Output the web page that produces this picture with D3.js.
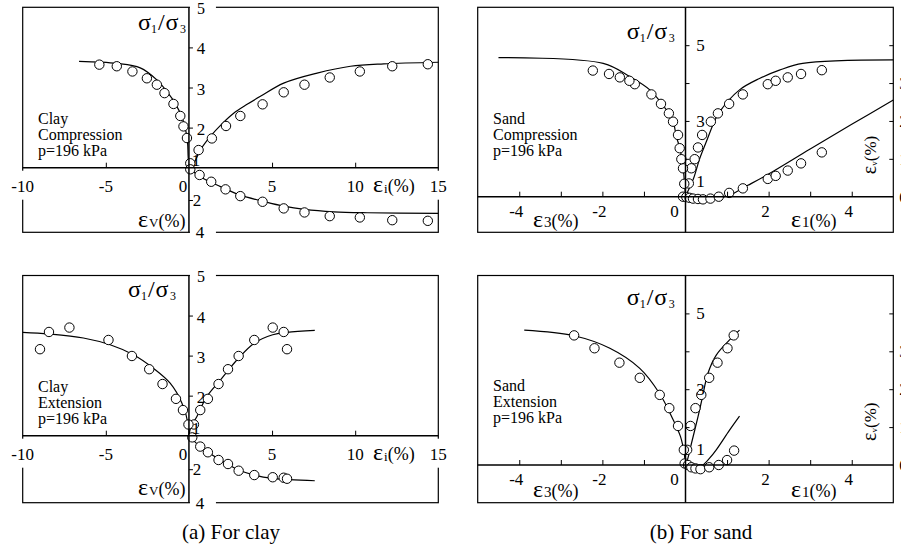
<!DOCTYPE html>
<html>
<head>
<meta charset="utf-8">
<script src="https://cdn.jsdelivr.net/npm/d3@7"></script>
<style>
  html, body { margin: 0; padding: 0; background: #fff; }
</style>
</head>
<body>
<svg id="fig" width="901" height="547"></svg>
<script>
// ---------- Clay, compression (p = 196 kPa) ----------
// [strain %, stress ratio] and [axial strain %, volumetric strain %]
const clayCompRatioTestPos = [[0.08,1.11],[0.58,1.44],[1.38,1.73],[2.23,2.04],[3.09,2.29],[4.43,2.58],[5.70,2.88],[6.95,3.07],[8.47,3.25],[10.28,3.40],[12.23,3.53],[14.37,3.58]];
const clayCompRatioTestNeg = [[-0.12,1.74],[-0.33,2.03],[-0.52,2.29],[-0.93,2.59],[-1.47,2.86],[-1.93,3.07],[-2.53,3.23],[-3.40,3.40],[-4.34,3.53],[-5.39,3.57]];
const clayCompRatioFitPos = [[0,1],[0.3,1.12],[0.7,1.45],[1.29,1.78],[2.0,2.1],[2.69,2.36],[3.5,2.58],[4.3,2.78],[5.7,3.11],[7.71,3.36],[9.72,3.53],[11.72,3.59],[15,3.63]];
const clayCompRatioFitNeg = [[0,1],[-0.05,1.3],[-0.08,1.61],[-0.18,1.9],[-0.36,2.19],[-0.83,2.61],[-1.33,2.9],[-1.93,3.19],[-2.93,3.49],[-4.34,3.6],[-6.61,3.65]];
const clayCompVolTest = [[0.08,0.1],[0.64,0.45],[1.34,0.87],[2.2,1.34],[3.09,1.76],[4.43,2.11],[5.7,2.52],[6.95,2.77],[8.47,3.0],[10.28,3.08],[12.23,3.25],[14.37,3.29]];
const clayCompVolFit = [[0,0],[0.68,0.56],[1.69,1.07],[3.09,1.7],[4.43,2.07],[5.7,2.38],[6.95,2.58],[8.71,2.73],[10.72,2.79],[15,2.83]];

// ---------- Clay, extension (p = 196 kPa) ----------
const clayExtRatioTestPos = [[0.3,1.28],[0.68,1.64],[1.14,1.92],[1.78,2.29],[2.35,2.66],[2.99,2.99],[3.93,3.39],[5.04,3.70],[5.7,3.59],[5.9,3.16]];
const clayExtRatioTestNeg = [[-0.03,1.28],[-0.36,1.64],[-0.78,1.92],[-1.59,2.29],[-2.39,2.66],[-3.43,2.99],[-4.84,3.39],[-7.19,3.70],[-8.42,3.59],[-8.96,3.16]];
const clayExtRatioFitPos = [[0,1],[0.1,1.2],[0.48,1.48],[1.08,1.98],[1.89,2.39],[2.99,2.94],[3.93,3.31],[5.04,3.52],[5.9,3.58],[7.57,3.63]];
const clayExtRatioFitNeg = [[0,1],[-0.02,1.23],[-0.42,1.81],[-1.13,2.31],[-2.13,2.68],[-3.34,3.02],[-4.74,3.27],[-6.35,3.44],[-8.42,3.54],[-10,3.58]];
const clayExtVolTest = [[0.2,0.1],[0.68,0.65],[1.14,0.99],[1.78,1.45],[2.35,1.69],[2.99,2.09],[3.93,2.35],[5.04,2.48],[5.7,2.51],[5.9,2.57]];
const clayExtVolFit = [[0,0],[0.68,0.66],[1.89,1.45],[2.99,2.05],[3.93,2.35],[5.04,2.55],[7.57,2.69]];

// ---------- Sand, compression (p = 196 kPa) ----------
const sandCompRatioTestPos = [[0.08,1.35],[0.14,1.75],[0.22,1.99],[0.3,2.3],[0.4,2.63],[0.61,2.98],[0.78,3.2],[1.05,3.45],[1.38,3.70],[1.98,3.97],[2.17,4.06],[2.46,4.15],[2.78,4.24],[3.28,4.34]];
const sandCompRatioTestNeg = [[-0.03,1.34],[-0.06,1.75],[-0.1,1.99],[-0.14,2.28],[-0.18,2.63],[-0.3,2.98],[-0.4,3.2],[-0.59,3.45],[-0.82,3.70],[-1.22,3.97],[-1.35,4.06],[-1.58,4.15],[-1.84,4.24],[-2.23,4.33]];
const sandCompRatioFitPos = [[0,1],[0.04,1.1],[0.2,1.5],[0.34,2.0],[0.5,2.45],[0.7,3.0],[0.82,3.24],[1.3,3.82],[1.78,4.12],[2.26,4.34],[2.82,4.52],[5,4.61]];
const sandCompRatioFitNeg = [[0,1],[-0.02,1.3],[-0.06,1.79],[-0.14,2.3],[-0.22,2.58],[-0.3,3.0],[-0.46,3.29],[-0.86,3.82],[-1.34,4.17],[-1.98,4.52],[-4.5,4.67]];
const sandCompVolTest = [[-0.06,0],[0.02,-0.01],[0.1,-0.03],[0.18,-0.05],[0.3,-0.06],[0.42,-0.07],[0.6,-0.05],[0.8,0.0],[1.05,0.1],[1.38,0.22],[1.98,0.47],[2.17,0.55],[2.46,0.69],[2.78,0.88],[3.28,1.17]];
const sandCompVolFit = [[0,0],[0.2,-0.05],[0.45,-0.07],[0.75,-0.04],[1.05,0.04],[1.5,0.3],[2,0.6],[3,1.26],[4,1.91],[5,2.55]];

// ---------- Sand, extension (p = 196 kPa) ----------
const sandExtRatioTestPos = [[0.04,1.40],[0.12,2.03],[0.24,2.50],[0.38,2.85],[0.57,3.30],[0.77,3.70],[1.01,4.08],[1.16,4.42]];
const sandExtRatioTestNeg = [[-0.04,1.40],[-0.18,2.03],[-0.39,2.50],[-0.62,2.85],[-1.10,3.30],[-1.59,3.70],[-2.19,4.08],[-2.68,4.42]];
const sandExtRatioFitPos = [[0,1],[0.05,1.15],[0.15,1.6],[0.3,2.27],[0.4,2.75],[0.54,3.42],[0.74,3.9],[1.06,4.3],[1.3,4.56]];
const sandExtRatioFitNeg = [[0,1],[-0.03,1.3],[-0.12,1.75],[-0.3,2.2],[-0.62,2.88],[-1.10,3.55],[-1.82,4.08],[-2.68,4.41],[-3.88,4.56]];
const sandExtVolTest = [[-0.02,0.04],[0.06,0],[0.14,-0.06],[0.24,-0.09],[0.36,-0.11],[0.57,-0.06],[0.8,0.0],[1.0,0.13],[1.17,0.38]];
const sandExtVolFit = [[0,0],[0.15,-0.05],[0.3,-0.06],[0.42,0],[0.58,0.18],[0.74,0.4],[1.06,0.92],[1.3,1.29]];

// ---------- tick labels and captions ----------
const clayStrainTicks = [-10, -5, 0, 5, 10, 15];
const clayRatioTicks = [1, 2, 3, 4, 5];
const clayVolTicks = [2, 4];
const sandStrainTicks = [-4, -2, 0, 2, 4];
const sandRatioTicks = [1, 3, 5];
const sandVolTicks = [0, 1, 2, 3];
const captions = ["(a) For clay", "(b) For sand"];

const SERIF = "Liberation Serif";
const svg = d3.select("#fig");
const FONT = 17;

function txt(g, x, y, s, size, anchor) {
  return g.append("text").attr("x", x).attr("y", y).attr("font-family", SERIF)
    .attr("font-size", size || FONT).attr("text-anchor", anchor || "middle").text(s);
}

// sigma_1 / sigma_3 label
function ratioLabel(g, x, y) {
  const t = g.append("text").attr("x", x).attr("y", y).attr("font-family", SERIF).attr("font-size", 24);
  t.append("tspan").text("σ");
  t.append("tspan").attr("font-size", 12).attr("dy", 3).text("1");
  t.append("tspan").attr("dy", -3).attr("dx", 1).text("/");
  t.append("tspan").attr("dx", 1).text("σ");
  t.append("tspan").attr("font-size", 12).attr("dy", 3).attr("dx", 1.5).text("3");
}

// epsilon label with subscript and (%)
function strainLabel(g, x, y, sub, subSize, subDy) {
  const t = g.append("text").attr("x", x).attr("y", y).attr("font-family", SERIF).attr("font-size", 24);
  t.append("tspan").text("ε");
  t.append("tspan").attr("font-size", subSize).attr("dy", subDy).attr("dx", 1).text(sub);
  t.append("tspan").attr("font-size", 18).attr("dy", -subDy).text("(%)");
  return t;
}

function curve(g, data, x, y, curveType) {
  g.append("path").datum(data)
    .attr("fill", "none").attr("stroke", "#000").attr("stroke-width", 1.2)
    .attr("d", d3.line().x(d => x(d[0])).y(d => y(d[1])).curve(curveType));
}

function points(g, data, x, y) {
  g.append("g").selectAll("circle").data(data).join("circle")
    .attr("cx", d => x(d[0])).attr("cy", d => y(d[1])).attr("r", 4.7)
    .attr("fill", "#fff").attr("stroke", "#000").attr("stroke-width", 1);
}

function noTicksLabels(sel) { sel.select(".domain").remove(); sel.selectAll("text").remove(); }

// ---------------- clay panel ----------------
function drawClay(cfg) {
  const g = svg.append("g");
  const f = cfg.frame;
  const x = d3.scaleLinear().domain([-10, 15]).range([f.x0, f.x1]);
  const s = d3.scaleLinear().domain([1, 5]).range([f.axisY, f.y0]);
  const v = d3.scaleLinear().domain([0, 4]).range([f.axisY, f.y1]);
  const ax = x(0);
  const smooth = d3.curveCatmullRom.alpha(0.5);

  g.append("rect").attr("x", f.x0).attr("y", f.y0).attr("width", f.x1 - f.x0).attr("height", f.y1 - f.y0)
    .attr("fill", "none").attr("stroke", "#000").attr("stroke-width", 1.2);
  // breaks in the frame where labels sit on it
  [[ax + 1, f.y0 - 2, 26, 4], [ax + 1, f.y1 - 2, 26, 4],
   [f.x0 - 2, f.axisY + 3, 4, 29], [f.x1 - 2, f.axisY + 3, 4, 29]].forEach(r =>
    g.append("rect").attr("x", r[0]).attr("y", r[1]).attr("width", r[2]).attr("height", r[3]).attr("fill", "#fff"));

  curve(g, cfg.ratioFitPos, x, s, smooth);
  curve(g, cfg.ratioFitNeg, x, s, smooth);
  curve(g, cfg.volFit, x, v, smooth);
  points(g, cfg.ratioTestPos, x, s);
  points(g, cfg.ratioTestNeg, x, s);
  points(g, cfg.volTest, x, v);

  // axes through the origin
  g.append("line").attr("x1", f.x0).attr("x2", f.x1).attr("y1", f.axisY).attr("y2", f.axisY)
    .attr("stroke", "#000").attr("stroke-width", 1.5);
  g.append("line").attr("x1", ax).attr("x2", ax).attr("y1", f.y0).attr("y2", f.y1)
    .attr("stroke", "#000").attr("stroke-width", 1.5);
  g.append("g").attr("transform", `translate(${ax},0)`)
    .call(d3.axisRight(s).tickValues([2, 3, 4]).tickSize(4)).call(noTicksLabels);
  g.append("g").attr("transform", `translate(${ax},0)`)
    .call(d3.axisRight(v).tickValues([2]).tickSize(4)).call(noTicksLabels);
  g.append("g").attr("transform", `translate(0,${f.axisY})`)
    .call(d3.axisTop(x).tickValues([-5, 5, 10]).tickSize(5)).call(noTicksLabels);

  // tick labels
  clayStrainTicks.forEach(t => txt(g, x(t) + (t === 0 ? -6 : 0), f.axisY + 24, t));
  clayRatioTicks.forEach(t => {
    const yy = t === 5 ? f.y0 + 6.5 : (t === 1 ? f.axisY - 2 : s(t) + 7);
    txt(g, ax + (t === 1 ? 7 : 12), yy, t, t === 5 ? 16 : FONT);
  });
  clayVolTicks.forEach(t => txt(g, ax + (t === 4 ? 11 : 8), t === 4 ? f.y1 + 6 : v(t) + 6, t));

  ratioLabel(g, cfg.ratioLab[0], cfg.ratioLab[1]);
  strainLabel(g, 373, f.axisY + 24, "i", 13, 1);
  strainLabel(g, 138, cfg.volLabY, "V", 13, 0);
  cfg.note.forEach((line, i) => txt(g, 38, cfg.noteY + 16 * i, line, 16, "start"));
}

// ---------------- sand panel ----------------
function drawSand(cfg) {
  const g = svg.append("g");
  const f = cfg.frame;
  const x = d3.scaleLinear().domain([-5, 5]).range([f.x0, f.x1]);
  const s = d3.scaleLinear().domain([1, 6]).range([f.axisY, f.y0]);
  const v = d3.scaleLinear().domain([0, 5]).range([f.axisY, f.y0]);
  const ax = x(0);
  const smooth = d3.curveCatmullRom.alpha(0.5);

  g.append("rect").attr("x", f.x0).attr("y", f.y0).attr("width", f.x1 - f.x0).attr("height", f.y1 - f.y0)
    .attr("fill", "none").attr("stroke", "#000").attr("stroke-width", 1.2);

  curve(g, cfg.ratioFitPos, x, s, smooth);
  curve(g, cfg.ratioFitNeg, x, s, smooth);
  curve(g, cfg.volFit, x, v, smooth);
  points(g, cfg.ratioTestPos, x, s);
  points(g, cfg.ratioTestNeg, x, s);
  points(g, cfg.volTest, x, v);

  g.append("line").attr("x1", f.x0).attr("x2", f.x1).attr("y1", f.axisY).attr("y2", f.axisY)
    .attr("stroke", "#000").attr("stroke-width", 1.5);
  g.append("line").attr("x1", ax).attr("x2", ax).attr("y1", f.y0).attr("y2", f.y1)
    .attr("stroke", "#000").attr("stroke-width", 1.5);
  g.append("g").attr("transform", `translate(0,${f.axisY})`)
    .call(d3.axisTop(x).tickValues([-4, -3, -2, -1, 1, 2, 3, 4]).tickSize(5)).call(noTicksLabels);
  g.append("g").attr("transform", `translate(${ax},0)`)
    .call(d3.axisRight(s).tickValues([2, 3, 4, 5]).tickSize(4)).call(noTicksLabels);
  g.append("g").attr("transform", `translate(${f.x1},0)`)
    .call(d3.axisLeft(v).tickValues([1, 2, 3, 4]).tickSize(4)).call(noTicksLabels);

  sandStrainTicks.forEach(t => txt(g, x(t) + (t === 0 ? -11 : -3), f.axisY + 20, t));
  sandRatioTicks.forEach(t => txt(g, ax + 15, t === 1 ? f.axisY - 10 : s(t) + 6, t));
  sandVolTicks.forEach(t => txt(g, f.x1 + 6, v(t) + 6, t, FONT, "start"));

  ratioLabel(g, 626.7, cfg.ratioLabY);
  strainLabel(g, 533, cfg.strainLabY, "3", 15, 0);
  strainLabel(g, 791, cfg.strainLabY, "1", 15, 0);
  const r = g.append("text").attr("transform", `translate(876,${cfg.volLabY}) rotate(-90)`)
    .attr("font-family", SERIF).attr("text-anchor", "middle").attr("font-size", 20);
  r.append("tspan").text("ε");
  r.append("tspan").attr("font-size", 9).attr("dy", 1).text("v");
  r.append("tspan").attr("font-size", 17).attr("dy", -1).text("(%)");
  cfg.note.forEach((line, i) => txt(g, 493, cfg.noteY + 16 * i, line, 16, "start"));
}

drawClay({
  frame: { x0: 22.7, x1: 438.3, y0: 7.3, y1: 232.3, axisY: 167.7 },
  ratioTestPos: clayCompRatioTestPos, ratioTestNeg: clayCompRatioTestNeg,
  ratioFitPos: clayCompRatioFitPos, ratioFitNeg: clayCompRatioFitNeg,
  volTest: clayCompVolTest, volFit: clayCompVolFit,
  ratioLab: [138, 29.5], volLabY: 226.7, noteY: 124,
  note: ["Clay", "Compression", "p=196 kPa"]
});
drawClay({
  frame: { x0: 22.7, x1: 438.3, y0: 275.5, y1: 502.7, axisY: 435.7 },
  ratioTestPos: clayExtRatioTestPos, ratioTestNeg: clayExtRatioTestNeg,
  ratioFitPos: clayExtRatioFitPos, ratioFitNeg: clayExtRatioFitNeg,
  volTest: clayExtVolTest, volFit: clayExtVolFit,
  ratioLab: [128, 296.7], volLabY: 495, noteY: 392,
  note: ["Clay", "Extension", "p=196 kPa"]
});
drawSand({
  frame: { x0: 477.7, x1: 893.3, y0: 7.3, y1: 232.3, axisY: 196.7 },
  ratioTestPos: sandCompRatioTestPos, ratioTestNeg: sandCompRatioTestNeg,
  ratioFitPos: sandCompRatioFitPos, ratioFitNeg: sandCompRatioFitNeg,
  volTest: sandCompVolTest, volFit: sandCompVolFit,
  ratioLabY: 39.3, strainLabY: 226.5, volLabY: 155, noteY: 124,
  note: ["Sand", "Compression", "p=196 kPa"]
});
drawSand({
  frame: { x0: 477.7, x1: 893.3, y0: 275.5, y1: 502.7, axisY: 465 },
  ratioTestPos: sandExtRatioTestPos, ratioTestNeg: sandExtRatioTestNeg,
  ratioFitPos: sandExtRatioFitPos, ratioFitNeg: sandExtRatioFitNeg,
  volTest: sandExtVolTest, volFit: sandExtVolFit,
  ratioLabY: 305, strainLabY: 496.5, volLabY: 421.7, noteY: 391,
  note: ["Sand", "Extension", "p=196 kPa"]
});

txt(svg, 231, 539, captions[0], 21);
txt(svg, 701, 539, captions[1], 21);
</script>
</body>
</html>
